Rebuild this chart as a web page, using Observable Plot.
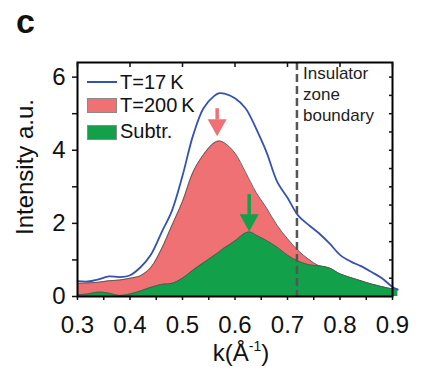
<!DOCTYPE html>
<html><head><meta charset="utf-8">
<script src="https://cdn.jsdelivr.net/npm/d3@7"></script>
<script src="https://cdn.jsdelivr.net/npm/@observablehq/plot@0.6"></script>
<style>
body{margin:0;background:#fff;font-family:"Liberation Sans",Arial,sans-serif;}
#wrap{position:relative;width:422px;height:372px;overflow:hidden;background:#fff}
#wrap svg{position:absolute;left:0;top:0}
.lbl{position:absolute;white-space:nowrap;color:#111;line-height:1}
.sw{position:absolute}
</style></head><body><div id="wrap"></div>
<script>
// k (1/Å)
const k     = [0.30,0.32,0.34,0.36,0.38,0.40,0.42,0.44,0.46,0.48,0.50,0.52,0.54,0.56,0.57,0.58,0.60,0.62,0.63,0.64,0.66,0.68,0.70,0.72,0.74,0.76,0.78,0.80,0.82,0.84,0.86,0.88,0.90,0.91];
// T = 17 K
const t17   = [0.42,0.41,0.47,0.55,0.53,0.58,0.80,1.15,1.75,2.35,3.30,4.40,5.15,5.48,5.56,5.55,5.42,5.15,4.90,4.60,3.95,3.15,2.70,2.22,1.96,1.73,1.45,1.14,0.96,0.83,0.67,0.50,0.26,0.19];
// T = 200 K
const t200  = [0.36,0.37,0.39,0.43,0.45,0.50,0.57,0.80,1.30,1.95,2.60,3.40,3.88,4.20,4.25,4.20,3.92,3.40,3.12,2.85,2.42,1.95,1.58,1.26,1.02,0.84,0.77,0.61,0.51,0.42,0.33,0.26,0.20,0.19];
// Subtraction
const subtr = [0.05,0.07,0.12,0.09,0.03,0.07,0.15,0.25,0.33,0.36,0.50,0.72,0.92,1.12,1.22,1.33,1.52,1.74,1.76,1.68,1.53,1.35,1.13,0.97,0.87,0.84,0.78,0.62,0.52,0.43,0.34,0.27,0.21,0.20];

const xTicks = [0.3,0.4,0.5,0.6,0.7,0.8,0.9];
const xMinorTicks = [0.35,0.45,0.55,0.65,0.75,0.85];
const yTicks = [0,2,4,6];
const yMinorTicks = [1,3,5];
const yRightTicks = [0.5,1,1.5,2,2.5,3,3.5,4,4.5,5,5.5,6];
const boundary = [0.718];

// arrow annotations (k, top of shaft, base of head, tip)
const arrowK    = [0.566, 0.627];
const arrowTop  = [5.15, 2.80];
const arrowNeck = [4.84, 2.24];
const arrowTip  = [4.38, 1.78];

const RED = "#f07173", GREEN = "#12a04a", BLUE = "#3452b0";
const rows = k.map((v,i)=>({k:v, t17:t17[i], t200:t200[i], subtr:subtr[i]}));
const arrRed = [{k:arrowK[0], top:arrowTop[0], neck:arrowNeck[0], tip:arrowTip[0]}];
const arrGreen = [{k:arrowK[1], top:arrowTop[1], neck:arrowNeck[1], tip:arrowTip[1]}];

const downTri = {draw(ctx, size){ const r=Math.sqrt(size/Math.PI); ctx.moveTo(0,0); ctx.lineTo(-r,-1.8*r); ctx.lineTo(r,-1.8*r); ctx.closePath(); }};
const curve = "catmull-rom";

const chart = Plot.plot({
  width:422, height:372, marginLeft:77, marginRight:30, marginTop:62, marginBottom:76,
  x:{domain:[0.3,0.9], label:null},
  y:{domain:[0,6.4], label:null},
  style:{fontFamily:"'Liberation Sans', Arial, sans-serif", fontSize:"24px", color:"#111", background:"transparent"},
  marks:[
    Plot.areaY(rows,{x:"k", y:"t200", fill:RED, curve}),
    Plot.lineY(rows,{x:"k", y:"t200", stroke:"#555", strokeWidth:0.9, curve}),
    Plot.areaY(rows,{x:"k", y:"subtr", fill:GREEN, curve}),
    Plot.lineY(rows,{x:"k", y:"subtr", stroke:"#555", strokeWidth:0.9, curve}),
    Plot.lineY(rows,{x:"k", y:"t17", stroke:BLUE, strokeWidth:1.8, curve}),
    Plot.ruleX(boundary,{stroke:"#555", strokeWidth:2.5, strokeDasharray:"8,4"}),
    Plot.link(arrRed,{x1:"k", x2:"k", y1:"top", y2:"neck", stroke:RED, strokeWidth:3.5}),
    Plot.dot(arrRed,{x:"k", y:"tip", symbol:downTri, r:9.5, fill:RED, stroke:null}),
    Plot.link(arrGreen,{x1:"k", x2:"k", y1:"top", y2:"neck", stroke:GREEN, strokeWidth:3.5}),
    Plot.dot(arrGreen,{x:"k", y:"tip", symbol:downTri, r:9.5, fill:GREEN, stroke:null}),
    Plot.frame({stroke:"#000", strokeWidth:2}),
    Plot.axisX({ticks:xTicks, tickSize:4, tickPadding:15, tickFormat:d=>d.toFixed(1), fontSize:24, label:null, strokeWidth:1.5}),
    Plot.axisX({ticks:xMinorTicks, tickSize:4, tickFormat:()=>"", label:null, strokeWidth:1.5}),
    Plot.axisX({anchor:"top", ticks:xTicks, tickSize:-4, tickFormat:()=>"", label:null, strokeWidth:1.5}),
    Plot.axisY({ticks:yTicks, tickSize:5, tickPadding:7, tickFormat:d=>String(d), fontSize:24, label:null, strokeWidth:1.5}),
    Plot.axisY({ticks:yMinorTicks, tickSize:5, tickFormat:()=>"", label:null, strokeWidth:1.5}),
    Plot.axisY({anchor:"right", ticks:yRightTicks, tickSize:-4, tickFormat:()=>"", label:null, strokeWidth:1.5})
  ]
});
const wrap = document.getElementById("wrap");
wrap.appendChild(chart);

function addLabel(html, css){ const d=document.createElement("div"); d.className="lbl"; d.innerHTML=html; Object.assign(d.style, css); wrap.appendChild(d); return d; }
function addSwatch(css){ const d=document.createElement("div"); d.className="sw"; Object.assign(d.style, css); wrap.appendChild(d); }

addLabel("c",{left:"16px", top:"4px", fontSize:"34px", fontWeight:"bold"});
addLabel("Intensity a.u.",{left:"25px", top:"167px", fontSize:"24px", transform:"translate(-50%,-50%) rotate(-90deg)"});
addLabel('k(Å<span style="font-size:14px;position:relative;top:-10px">-1</span>)',{left:"241px", top:"341px", fontSize:"24px", transform:"translateX(-50%)"});

// legend
addSwatch({left:"87px", top:"81px", width:"30px", height:"2px", background:BLUE});
addSwatch({left:"87px", top:"98px", width:"28px", height:"13px", background:RED, border:"1px solid #8a8a8a"});
addSwatch({left:"87px", top:"125px", width:"28px", height:"13px", background:GREEN, border:"1px solid #8a8a8a"});
addLabel("T=17\u2009K",{left:"120px", top:"72px", fontSize:"20px"});
addLabel("T=200\u2009K",{left:"120px", top:"95px", fontSize:"20px"});
addLabel("Subtr.",{left:"120px", top:"121px", fontSize:"20px"});

addLabel("Insulator<br>zone<br>boundary",{left:"303px", top:"63px", fontSize:"17px", lineHeight:"21px", color:"#222"});
</script></body></html>
